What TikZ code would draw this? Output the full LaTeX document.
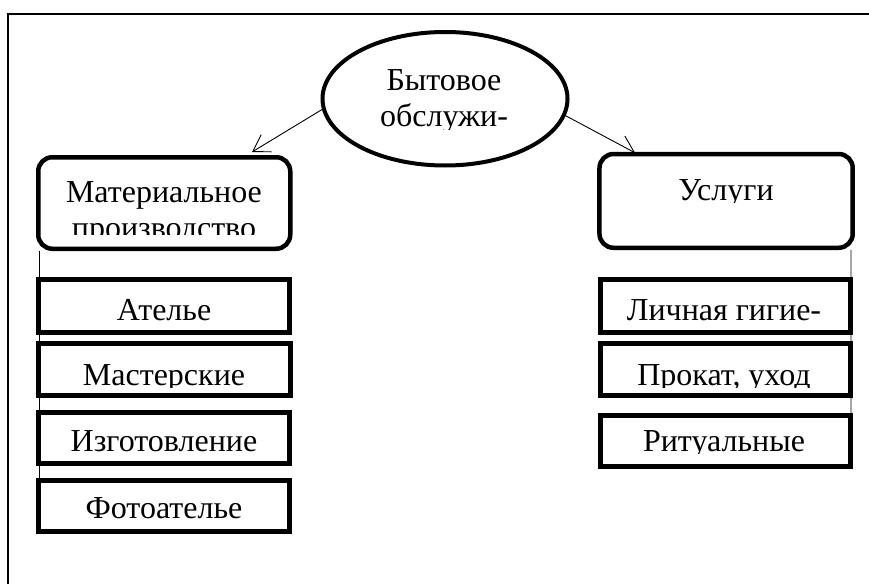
\documentclass[tikz,border=0pt]{standalone}
\usepackage{fontspec}
\setmainfont{Liberation Serif}
\usetikzlibrary{shapes.geometric,arrows.meta}
\tikzset{
  frame/.style={line width=2pt,black},
  rbox/.style={draw,line width=4.5pt,rounded corners=14pt,inner sep=0pt},
  sbox/.style={draw,line width=5pt,inner sep=0pt},
  ell/.style={draw,ellipse,line width=4pt,inner sep=0pt},
  txt/.style={inner sep=0pt,font=\fontsize{32}{36}\selectfont},
  arr/.style={line width=0.9pt,-{Straight Barb[length=16pt,width=20pt,line width=0.9pt]}},
  thinline/.style={line width=0.9pt},
}
\newcommand\cliptxt[5]{%
  \begin{scope}
    \clip (#2-170,#3-45) rectangle (#2+170,#4);
    \node[txt,anchor=base] (#1) at (#2,#3) {#5};
  \end{scope}}
\begin{document}
\begin{tikzpicture}[x=1pt,y=-1pt]
\useasboundingbox (0,0) rectangle (869,583);
% outer frame
\draw[frame] (8.3,590) -- (8.3,13.7) -- (880,13.7);
% ellipse
\node[ell,minimum width=245pt,minimum height=133.5pt] (top) at (445,98.75) {};
% rounded boxes
\node[rbox,minimum width=252pt,minimum height=91.5pt] (mat) at (164.25,203) {};
\node[rbox,minimum width=253.25pt,minimum height=93.75pt] (usl) at (726.1,200.9) {};
% left column
\node[sbox,minimum width=251.5pt,minimum height=53pt] (l1) at (163.75,306) {};
\node[sbox,minimum width=251.5pt,minimum height=52pt] (l2) at (164.5,369.5) {};
\node[sbox,minimum width=251.5pt,minimum height=51pt] (l3) at (163.75,438) {};
\node[sbox,minimum width=251.5pt,minimum height=51pt] (l4) at (163.75,506) {};
% right column
\node[sbox,minimum width=250pt,minimum height=53pt] (r1) at (725,306) {};
\node[sbox,minimum width=250pt,minimum height=52pt] (r2) at (725,369.5) {};
\node[sbox,minimum width=250pt,minimum height=51pt] (r3) at (725,441) {};
% thin side lines
\draw[thinline] ([xshift=3pt]mat.south west) -- ([xshift=3.5pt]l4.north west);
\draw[thinline] ([xshift=-4pt]usl.south east) -- ([xshift=-1.5pt]r3.north east);
% arrows
\draw[arr] (top.185) -- ([xshift=87.75pt,yshift=3pt]mat.north);
\draw[arr] (top.-8.4) -- ([xshift=-91.1pt,yshift=-1pt]usl.north);
% texts
\cliptxt{t0a}{444}{90.7}{130}{Бытовое}
\cliptxt{t0b}{444}{127}{129.5}{обслужи-}
\cliptxt{tma}{164}{202.7}{234.3}{Материальное}
\cliptxt{tmb}{164}{238.7}{234.3}{производство}
\cliptxt{tus}{726}{200}{202.5}{Услуги}
\cliptxt{tl1}{164}{320.7}{323.2}{Ателье}
\cliptxt{tl2}{164}{385}{387.2}{Мастерские}
\cliptxt{tl3}{164}{451.7}{454}{Изготовление}
\cliptxt{tl4}{164}{518.5}{521}{Фотоателье}
\cliptxt{tr1}{724}{320.7}{323.2}{Личная гигие-}
\cliptxt{tr2}{724}{385}{387}{Прокат, уход}
\cliptxt{tr3}{724}{451.7}{453.7}{Ритуальные}
\end{tikzpicture}
\end{document}
